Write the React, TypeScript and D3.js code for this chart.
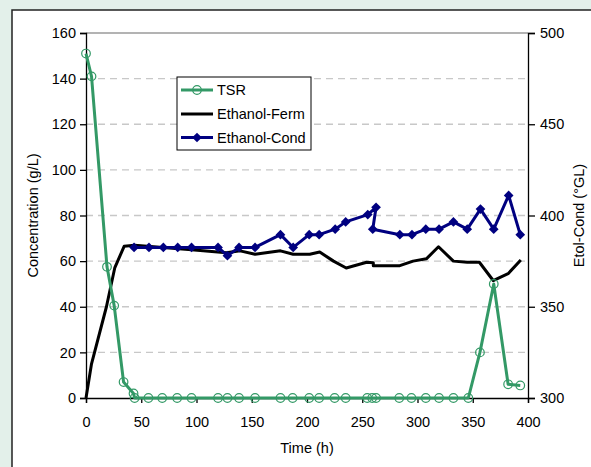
import * as d3 from "d3";
import React, { useRef, useEffect } from "react";

// TSR (g/L)
const tsrTime = [0, 5, 19, 25.5, 34, 43, 44, 56.5, 69, 82.5, 95.5, 119.5, 128, 138.5, 153, 176, 187, 202, 211, 225, 235, 254.5, 259, 262.5, 283.5, 294.5, 307.5, 319.5, 332.5, 346, 356.5, 369, 382, 393];
const tsrValue = [151, 141, 57.5, 40.5, 7, 2, 0, 0, 0, 0, 0, 0, 0, 0, 0, 0, 0, 0, 0, 0, 0, 0, 0, 0, 0, 0, 0, 0, 0, 0, 20, 50, 6, 5.5];

// Ethanol in fermenter (g/L)
const fermTime = [0, 5, 18.5, 26, 34.5, 44, 95.5, 127, 139.5, 153, 176, 187.5, 202.5, 211.5, 224, 235.5, 254, 260, 260, 284, 296, 308, 319, 332.5, 345, 356, 368.5, 382, 393.5];
const fermValue = [0, 15, 40, 57, 66.5, 67, 65, 63.7, 64.5, 63, 64.5, 63, 63, 64, 60, 57, 59.5, 59.3, 58, 58, 60, 61, 66.3, 60, 59.5, 59.5, 51.5, 54.5, 60.5];

// Ethanol in condensate (°GL, right axis)
const condTime = [43.5, 57, 70, 83, 95.5, 119.5, 128, 138.5, 153, 176, 187.5, 202, 211, 225.5, 235, 255, 262.5, 259.5, 284, 295, 307.5, 319.5, 332.5, 345, 357, 369, 382.5, 393];
const condValue = [382.5, 382.5, 382.5, 382.5, 382.5, 382.5, 378, 382.5, 382.5, 389.5, 382.5, 389.5, 389.5, 392.5, 396.5, 400.5, 404.5, 392.5, 389.5, 389.5, 392.5, 392.5, 396.5, 392.5, 403.5, 392.5, 411, 389.5];

const xTicks = [0, 50, 100, 150, 200, 250, 300, 350, 400];
const yLeftTicks = [0, 20, 40, 60, 80, 100, 120, 140, 160];
const yRightTicks = [300, 350, 400, 450, 500];

const seriesNames = ["TSR", "Ethanol-Ferm", "Ethanol-Cond"];

const W = 591;
const H = 467;
const FONT = "'Liberation Sans', Arial, sans-serif";
const GREEN = "#339966";
const NAVY = "#000080";

const App = () => {
  const ref = useRef(null);

  useEffect(() => {
    const svg = d3.select(ref.current);
    svg.selectAll("*").remove();

    const left = 86, right = 528, top = 33, bottom = 398;

    const x = d3.scaleLinear().domain([0, 400]).range([left, right]);
    const yL = d3.scaleLinear().domain([0, 160]).range([bottom, top]);
    const yR = d3.scaleLinear().domain([300, 500]).range([bottom, top]);

    // background + frame
    svg.append("rect").attr("width", W).attr("height", H).attr("fill", "#e3f0ea");
    svg.append("rect").attr("x", 12).attr("y", 10).attr("width", W).attr("height", H)
      .attr("fill", "#ffffff").attr("stroke", "#222").attr("stroke-width", 1.5);

    // gridlines
    svg.append("g").selectAll("line")
      .data(yLeftTicks.filter(d => d > 0 && d < 160))
      .enter().append("line")
      .attr("x1", left).attr("x2", right)
      .attr("y1", d => yL(d)).attr("y2", d => yL(d))
      .attr("stroke", "#c8c8c8").attr("stroke-width", 1.3)
      .attr("stroke-dasharray", "7,5");
    svg.append("line")
      .attr("x1", left).attr("x2", right).attr("y1", yL(160)).attr("y2", yL(160))
      .attr("stroke", "#9a9a9a").attr("stroke-width", 1.5);

    // axes
    const axL = svg.append("g").attr("transform", `translate(${left},0)`)
      .call(d3.axisLeft(yL).tickValues(yLeftTicks).tickSize(6).tickPadding(4));
    const axR = svg.append("g").attr("transform", `translate(${right},0)`)
      .call(d3.axisRight(yR).tickValues(yRightTicks).tickSize(7).tickPadding(5));
    const axB = svg.append("g").attr("transform", `translate(0,${bottom})`)
      .call(d3.axisBottom(x).tickValues(xTicks).tickSize(5).tickPadding(14));

    [axL, axR, axB].forEach(ax => {
      ax.select(".domain").attr("stroke", "#000").attr("stroke-width", 1.3);
      ax.selectAll(".tick line").attr("stroke", "#000").attr("stroke-width", 1.3);
      ax.selectAll("text").attr("font-family", FONT).attr("font-size", 14.5).attr("fill", "#000");
    });

    // axis titles
    svg.append("text").attr("x", (left + right) / 2).attr("y", 453)
      .attr("text-anchor", "middle").attr("font-family", FONT).attr("font-size", 14.5)
      .text("Time (h)");
    svg.append("text").attr("transform", `translate(38,${(top + bottom) / 2}) rotate(-90)`)
      .attr("text-anchor", "middle").attr("font-family", FONT).attr("font-size", 14.5)
      .text("Concentration (g/L)");
    svg.append("text").attr("transform", `translate(584,${(top + bottom) / 2}) rotate(-90)`)
      .attr("text-anchor", "middle").attr("font-family", FONT).attr("font-size", 14.5)
      .text("Etol-Cond (°GL)");

    const line = d3.line();

    // Ethanol-Ferm
    svg.append("path")
      .attr("d", line(fermTime.map((t, i) => [x(t), yL(fermValue[i])])))
      .attr("fill", "none").attr("stroke", "#000").attr("stroke-width", 3)
      .attr("stroke-linejoin", "round");

    // Ethanol-Cond
    const condPts = condTime.map((t, i) => [x(t), yR(condValue[i])]);
    svg.append("path").attr("d", line(condPts))
      .attr("fill", "none").attr("stroke", NAVY).attr("stroke-width", 3)
      .attr("stroke-linejoin", "round");
    const diamond = d3.symbol().type(d3.symbolDiamond2).size(60);
    svg.append("g").selectAll("path").data(condPts).enter().append("path")
      .attr("transform", d => `translate(${d[0]},${d[1]})`)
      .attr("d", diamond()).attr("fill", NAVY);

    // TSR
    const tsrPts = tsrTime.map((t, i) => [x(t), yL(tsrValue[i])]);
    svg.append("path").attr("d", line(tsrPts))
      .attr("fill", "none").attr("stroke", GREEN).attr("stroke-width", 3)
      .attr("stroke-linejoin", "round");
    svg.append("g").selectAll("circle").data(tsrPts).enter().append("circle")
      .attr("cx", d => d[0]).attr("cy", d => d[1]).attr("r", 4.3)
      .attr("fill", "none").attr("stroke", GREEN).attr("stroke-width", 1.2);

    // legend
    const lg = svg.append("g");
    lg.append("rect").attr("x", 177).attr("y", 77).attr("width", 134).attr("height", 73)
      .attr("fill", "#fff").attr("stroke", "#000").attr("stroke-width", 1);
    const rows = [90, 114, 137.5];
    seriesNames.forEach((name, i) => {
      const yy = rows[i];
      const col = i === 0 ? GREEN : i === 1 ? "#000" : NAVY;
      lg.append("line").attr("x1", 181).attr("x2", 213).attr("y1", yy).attr("y2", yy)
        .attr("stroke", col).attr("stroke-width", 3);
      if (i === 0) {
        lg.append("circle").attr("cx", 197).attr("cy", yy).attr("r", 4.3)
          .attr("fill", "none").attr("stroke", GREEN).attr("stroke-width", 1.2);
      }
      if (i === 2) {
        lg.append("path").attr("transform", `translate(197,${yy})`)
          .attr("d", diamond()).attr("fill", NAVY);
      }
      lg.append("text").attr("x", 217).attr("y", yy + 5)
        .attr("font-family", FONT).attr("font-size", 14.5).text(name);
    });
  }, []);

  return (
    <svg
      ref={ref}
      width={W}
      height={H}
      style={{ position: "absolute", left: 0, top: 0 }}
    />
  );
};

export default App;
